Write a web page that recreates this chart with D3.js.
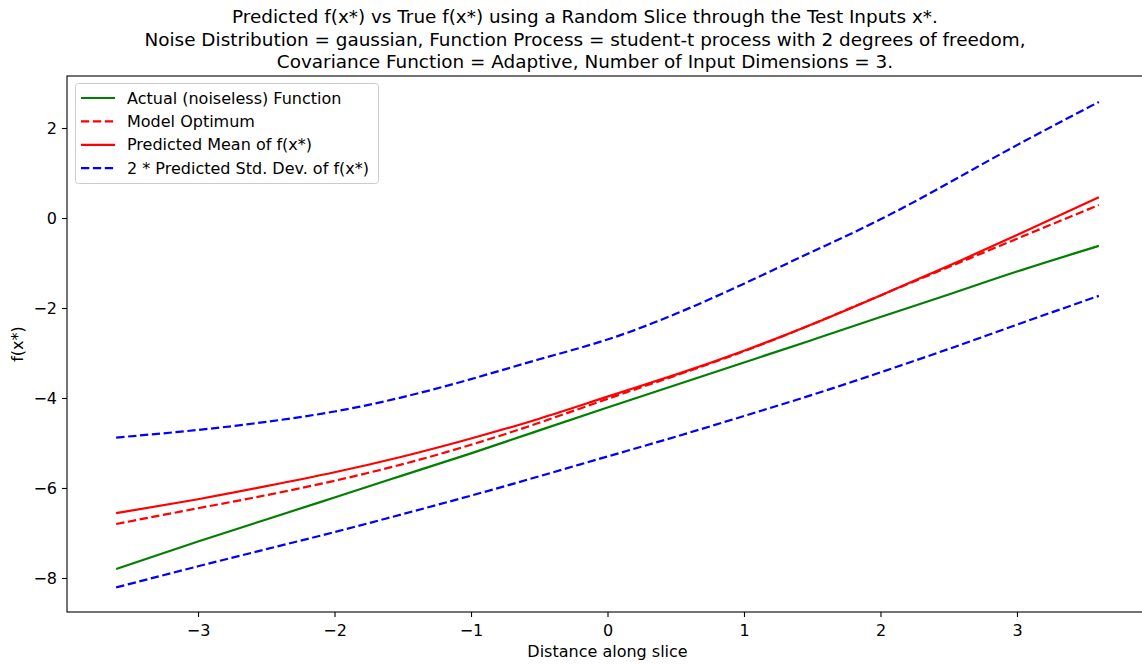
<!DOCTYPE html>
<html>
<head>
<meta charset="utf-8">
<script src="https://d3js.org/d3.v7.min.js"></script>
<style>
  body { margin: 0; background: #fff; }
  svg text { font-family: "DejaVu Sans", sans-serif; fill: #000; }
</style>
</head>
<body>
<svg width="1142" height="664"></svg>
<script>
// x positions along the slice
const xs = [-3.6, -3, -2.5, -2, -1.5, -1, -0.5, 0, 0.5, 1, 1.5, 2, 2.5, 3, 3.6];

const actual    = [-7.80, -7.19, -6.70, -6.21, -5.72, -5.23, -4.72, -4.21, -3.71, -3.21, -2.71, -2.20, -1.70, -1.19, -0.62];
const optimum   = [-6.80, -6.45, -6.16, -5.84, -5.47, -5.04, -4.55, -4.02, -3.50, -2.96, -2.36, -1.72, -1.09, -0.46, 0.29];
const predMean  = [-6.56, -6.25, -5.96, -5.65, -5.30, -4.90, -4.46, -3.97, -3.48, -2.95, -2.36, -1.72, -1.06, -0.38, 0.46];
const upperBand = [-4.88, -4.71, -4.53, -4.30, -3.98, -3.58, -3.14, -2.70, -2.13, -1.46, -0.75, -0.03, 0.78, 1.62, 2.58];
const lowerBand = [-8.21, -7.74, -7.36, -6.98, -6.58, -6.17, -5.74, -5.30, -4.86, -4.40, -3.93, -3.43, -2.91, -2.37, -1.73];

const xTicks = [-3, -2, -1, 0, 1, 2, 3];
const yTicks = [-8, -6, -4, -2, 0, 2];

const titleLines = [
  "Predicted f(x*) vs True f(x*) using a Random Slice through the Test Inputs x*.",
  "Noise Distribution = gaussian, Function Process = student-t process with 2 degrees of freedom,",
  "Covariance Function = Adaptive, Number of Input Dimensions = 3."
];

const series = [
  {label: "Actual (noiseless) Function", values: actual, color: "green", dash: null},
  {label: "Model Optimum", values: optimum, color: "red", dash: "8.3,3.6"},
  {label: "Predicted Mean of f(x*)", values: predMean, color: "red", dash: null},
  {label: "2 * Predicted Std. Dev. of f(x*)", values: upperBand, color: "blue", dash: "8.3,3.6"},
  {label: null, values: lowerBand, color: "blue", dash: "8.3,3.6"}
];

const svg = d3.select("svg");
const pLeft = 67, pRight = 1148, pTop = 76, pBottom = 612;

const x = d3.scaleLinear().domain([-3.96, 3.96]).range([pLeft, pRight]);
const y = d3.scaleLinear().domain([-8.756, 3.156]).range([pBottom, pTop]);

// title
svg.append("text")
  .attr("x", 585).attr("y", 23)
  .attr("text-anchor", "middle")
  .style("font-size", "18.4px")
  .selectAll("tspan").data(titleLines).join("tspan")
  .attr("x", 585).attr("dy", (d, i) => i ? 22.5 : 0)
  .text(d => d);

// clip for the plotting area
svg.append("clipPath").attr("id", "clip")
  .append("rect").attr("x", pLeft).attr("y", pTop).attr("width", pRight - pLeft).attr("height", pBottom - pTop);

const line = d3.line()
  .x((d, i) => x(xs[i]))
  .y(d => y(d))
  .curve(d3.curveNatural);

svg.append("g").attr("clip-path", "url(#clip)")
  .selectAll("path").data(series).join("path")
  .attr("fill", "none")
  .attr("stroke", d => d.color)
  .attr("stroke-width", 2.2)
  .attr("stroke-dasharray", d => d.dash)
  .attr("d", d => line(d.values));

// axes
const fmt = d => d < 0 ? "\u2212" + Math.abs(d) : d;
const xAxis = svg.append("g").attr("transform", `translate(0,${pBottom})`)
  .call(d3.axisBottom(x).tickValues(xTicks).tickSize(5).tickPadding(5).tickFormat(fmt));
const yAxis = svg.append("g").attr("transform", `translate(${pLeft},0)`)
  .call(d3.axisLeft(y).tickValues(yTicks).tickSize(5).tickPadding(5).tickFormat(fmt));
[xAxis, yAxis].forEach(g => {
  g.selectAll("text").style("font-size", "16px").attr("fill", "#000");
  g.selectAll("line").attr("stroke", "#000").attr("stroke-width", 1.1);
  g.select(".domain").remove();
});
xAxis.selectAll("text").attr("dy", "0.85em");

// spines
svg.append("rect")
  .attr("x", pLeft).attr("y", pTop)
  .attr("width", pRight - pLeft).attr("height", pBottom - pTop)
  .attr("fill", "none").attr("stroke", "#000").attr("stroke-width", 1.1);

// axis labels
svg.append("text").attr("x", (pLeft + pRight) / 2).attr("y", 657)
  .attr("text-anchor", "middle").style("font-size", "16px")
  .text("Distance along slice");
svg.append("text")
  .attr("transform", `translate(23,${(pTop + pBottom) / 2}) rotate(-90)`)
  .attr("text-anchor", "middle").style("font-size", "16px")
  .text("f(x*)");

// legend
const legendItems = series.filter(d => d.label);
const lg = svg.append("g");
lg.append("rect")
  .attr("x", 75.5).attr("y", 83.5).attr("width", 303).attr("height", 100)
  .attr("rx", 3).attr("fill", "#fff").attr("fill-opacity", 0.8)
  .attr("stroke", "#ccc").attr("stroke-width", 1);
const items = lg.selectAll("g.item").data(legendItems).join("g")
  .attr("transform", (d, i) => `translate(0,${98 + i * 23.4})`);
items.append("line")
  .attr("x1", 81).attr("x2", 115)
  .attr("stroke", d => d.color).attr("stroke-width", 2.2)
  .attr("stroke-dasharray", d => d.dash);
items.append("text")
  .attr("x", 127).attr("dy", "0.35em")
  .style("font-size", "16px")
  .text(d => d.label);
</script>
</body>
</html>
